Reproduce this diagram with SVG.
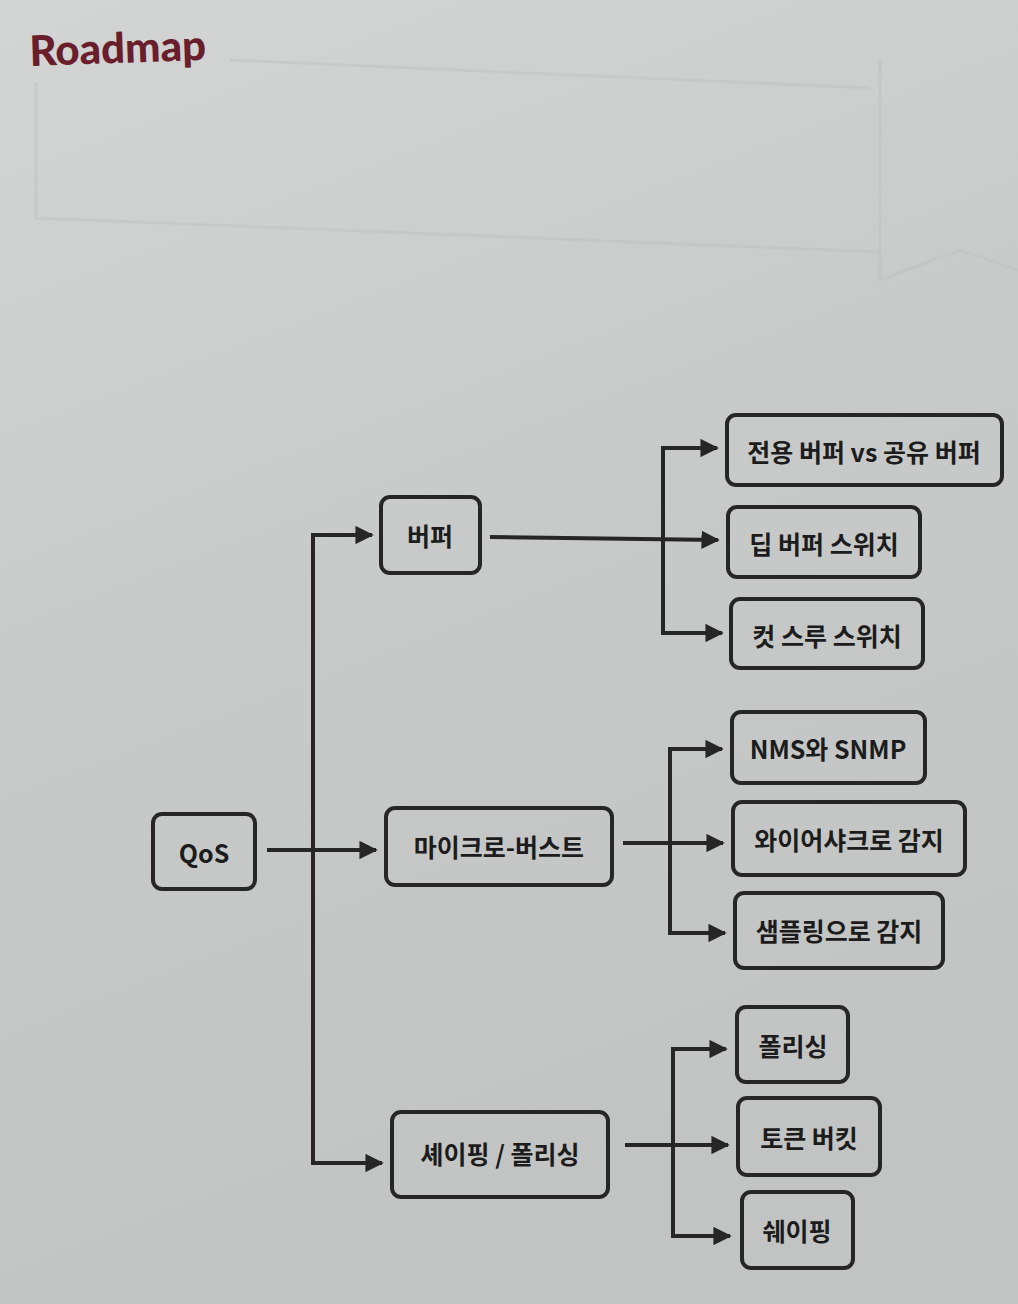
<svg xmlns="http://www.w3.org/2000/svg" width="1018" height="1304" viewBox="0 0 1018 1304">
<defs>
<linearGradient id="bg" x1="0" y1="0" x2="0.3" y2="1">
<stop offset="0" stop-color="#d3d5d4"/>
<stop offset="0.5" stop-color="#c8cac9"/>
<stop offset="1" stop-color="#c2c4c3"/>
</linearGradient>
<marker id="ah" viewBox="0 0 10 10" refX="9" refY="5" markerWidth="4.6" markerHeight="4.6" markerUnits="strokeWidth" orient="auto">
<path d="M0,0 L10,5 L0,10 Z" fill="#262626"/>
</marker>
<style>
.box{fill:none;stroke:#262626;stroke-width:4;}
.lbl{font-family:"Noto Sans CJK KR","Noto Sans",sans-serif;font-size:25px;font-weight:700;fill:#1c1c1c;text-anchor:middle;dominant-baseline:central;}
.ln{fill:none;stroke:#262626;stroke-width:4;stroke-linejoin:miter;}
.arr{marker-end:url(#ah);}
.ghost{fill:none;stroke:#bcbebd;stroke-width:3;opacity:0.4;}
</style>
</defs>
<rect x="0" y="0" width="1018" height="1304" fill="url(#bg)"/>
<g id="ghost-frame">
<path class="ghost" d="M36,82 L36,218 L880,252"/>
<path class="ghost" d="M230,60 L870,88"/>
<path class="ghost" d="M880,60 L880,280 L960,250 L1018,270"/>
</g>
<text x="30" y="66" font-family="Lato, 'Liberation Sans', sans-serif" font-size="42" font-weight="900" fill="#6a1e2c" transform="rotate(-2 30 66)">Roadmap</text>
<g id="connectors">
<path class="ln" d="M267,850 L313,850"/>
<path class="ln arr" d="M313,850 L376,850"/>
<path class="ln arr" d="M313,1163 L313,535 L372,535"/>
<path class="ln arr" d="M313,850 L313,1163 L382,1163"/>
<path class="ln arr" d="M490,537 L718,540"/>
<path class="ln arr" d="M663,540 L663,448 L717,448"/>
<path class="ln arr" d="M663,540 L663,633 L722,633"/>
<path class="ln arr" d="M623,843 L723,843"/>
<path class="ln arr" d="M670,843 L670,749 L722,749"/>
<path class="ln arr" d="M670,843 L670,933 L725,933"/>
<path class="ln arr" d="M625,1145 L728,1145"/>
<path class="ln arr" d="M673,1145 L673,1049 L726,1049"/>
<path class="ln arr" d="M673,1145 L673,1236 L730,1236"/>
</g>
<g id="qos"><rect class="box" x="153" y="814" width="102" height="75" rx="9"/><text class="lbl" x="204" y="852">QoS</text></g>
<g id="buffer"><rect class="box" x="381" y="497" width="99" height="76" rx="9"/><text class="lbl" x="430" y="535">버퍼</text></g>
<g id="microburst"><rect class="box" x="386" y="808" width="226" height="77" rx="9"/><text class="lbl" x="499" y="846">마이크로-버스트</text></g>
<g id="shaping-policing"><rect class="box" x="392" y="1112" width="216" height="85" rx="9"/><text class="lbl" x="500" y="1153">셰이핑 / 폴리싱</text></g>
<g id="dedicated-shared"><rect class="box" x="727" y="415" width="275" height="70" rx="9"/><text class="lbl" x="864" y="451">전용 버퍼 vs 공유 버퍼</text></g>
<g id="deep-buffer"><rect class="box" x="728" y="507" width="192" height="70" rx="9"/><text class="lbl" x="824" y="543">딥 버퍼 스위치</text></g>
<g id="cut-through"><rect class="box" x="731" y="599" width="192" height="69" rx="9"/><text class="lbl" x="827" y="635">컷 스루 스위치</text></g>
<g id="nms-snmp"><rect class="box" x="732" y="712" width="193" height="71" rx="9"/><text class="lbl" x="828" y="748">NMS와 SNMP</text></g>
<g id="wireshark"><rect class="box" x="733" y="802" width="232" height="73" rx="9"/><text class="lbl" x="849" y="839">와이어샤크로 감지</text></g>
<g id="sampling"><rect class="box" x="735" y="893" width="208" height="75" rx="9"/><text class="lbl" x="839" y="930">샘플링으로 감지</text></g>
<g id="policing"><rect class="box" x="737" y="1007" width="111" height="75" rx="9"/><text class="lbl" x="793" y="1045">폴리싱</text></g>
<g id="token-bucket"><rect class="box" x="738" y="1098" width="142" height="77" rx="9"/><text class="lbl" x="809" y="1137">토큰 버킷</text></g>
<g id="shaping"><rect class="box" x="742" y="1192" width="111" height="76" rx="9"/><text class="lbl" x="797" y="1230">쉐이핑</text></g>
</svg>
